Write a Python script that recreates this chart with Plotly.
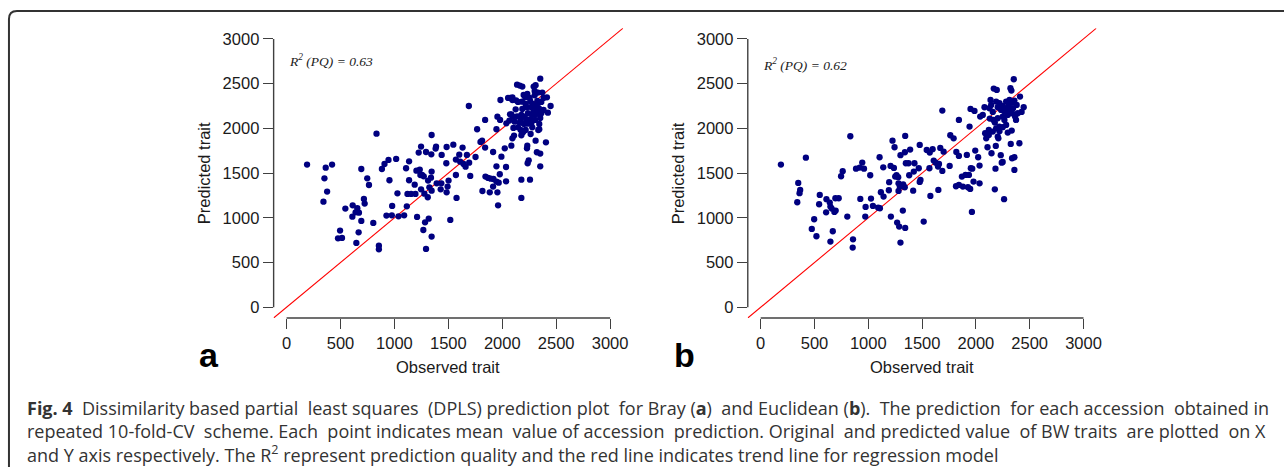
import plotly.graph_objects as go

# ---------------- data ----------------
obs_a = [190, 363, 422, 351, 376, 342, 545, 613, 610, 656,
         671, 640, 693, 717, 724, 693, 748, 764, 804, 668,
         647, 496, 477, 514, 834, 856, 856, 884, 908, 945,
         1016, 954, 1028, 979, 926, 976, 1038, 1090, 1108, 1136,
         1136, 1121, 1155, 1195, 1115, 1188, 1204, 1225, 1247, 1210,
         1235, 1241, 1256, 1272, 1247, 1278, 1309, 1293, 1342, 1345,
         1345, 1339, 1312, 1324, 1345, 1268, 1284, 1318, 1293, 1345,
         1382, 1386, 1392, 1435, 1429, 1438, 1484, 1481, 1493, 1484,
         1502, 1518, 1546, 1570, 1576, 1570, 1601, 1610, 1632, 1641,
         1660, 1672, 1693, 1703, 1690, 1752, 1767, 1798, 1813, 1841,
         1841, 1816, 1844, 1869, 1884, 1893, 1918, 1915, 1915, 1946,
         1946, 1955, 1961, 1967, 1977, 1946, 1955, 1980, 1983, 1992,
         2023, 2035, 2035, 2038, 2084, 2094, 2109, 2177, 2177, 2232,
         2229, 2257, 2235, 2245, 2309, 2321, 2352, 2352, 2405, 2334,
         2343, 2263, 2217, 2177, 2146, 2171, 2192, 2103, 2115, 2066,
         2084, 2352, 2309, 2291, 2137, 2162, 2186, 2232, 2300, 2331,
         2371, 2300, 2254, 2383, 2414, 2448, 2423, 2383, 2362, 2054,
         2072, 2094, 2128, 2146, 2183, 2217, 2260, 2281, 2325, 2124,
         2186, 2229, 2269, 2309, 2340, 2072, 2097, 2137, 2177, 2208,
         2238, 2278, 2315, 2352, 2362, 2223, 2263, 2306, 2171, 2269,
         2235, 2201, 2162, 2343, 2278, 2315, 2287, 2331, 2198, 2214,
         2094]
pred_a = [1595, 1561, 1595, 1442, 1293, 1181, 1103, 1140, 1013, 1107,
          1058, 1062, 965, 1211, 1159, 1546, 1442, 1367, 943, 838,
          719, 857, 771, 775, 1941, 689, 648, 1546, 1602, 1647,
          1658, 1420, 1274, 1133, 1025, 1028, 1017, 1028, 1554, 1632,
          1420, 1267, 1267, 1267, 1129, 1371, 1527, 1729, 1796, 1010,
          1539, 1479, 1479, 1464, 1319, 1270, 1230, 1736, 1710, 1926,
          1517, 1449, 1416, 1341, 1304, 864, 950, 991, 652, 790,
          1774, 1796, 1386, 1386, 1319, 1703, 1792, 1610, 1349, 1285,
          1416, 976, 1818, 1479, 1222, 1651, 1706, 1628, 1785, 1602,
          1572, 1703, 1617, 1468, 2250, 1680, 1990, 1848, 1863, 1785,
          2094, 1300, 1461, 1446, 1285, 1438, 1434, 1349, 1736, 1576,
          1405, 1285, 1140, 1393, 1487, 1990, 2131, 2094, 2317, 1684,
          1777, 1568, 1408, 2057, 1807, 1889, 1919, 1427, 1222, 1807,
          1777, 1427, 1610, 1643, 1863, 1733, 1718, 1576, 1844, 1982,
          1990, 1937, 1982, 1923, 2012, 1982, 1956, 2005, 2075, 2087,
          2157, 2556, 2482, 2467, 2489, 2478, 2467, 2385, 2418, 2400,
          2400, 2370, 2340, 2340, 2347, 2250, 2176, 2206, 2296, 2340,
          2340, 2317, 2314, 2296, 2299, 2273, 2303, 2273, 2306, 2213,
          2217, 2236, 2236, 2236, 2224, 2157, 2131, 2135, 2150, 2131,
          2169, 2150, 2161, 2116, 2169, 2094, 2102, 2094, 2094, 2057,
          2053, 2049, 2064, 2049, 2012, 2206, 2180, 2280, 2374, 2347,
          2347]

obs_b = [188, 420, 349, 367, 361, 340, 549, 543, 497, 475,
         518, 611, 642, 648, 660, 685, 697, 608, 694, 725,
         747, 762, 670, 648, 805, 833, 858, 855, 886, 920,
         944, 960, 926, 975, 972, 1018, 1025, 1043, 1092, 1105,
         1139, 1117, 1142, 1108, 1194, 1191, 1210, 1207, 1225, 1244,
         1238, 1250, 1262, 1278, 1281, 1293, 1281, 1268, 1287, 1299,
         1321, 1343, 1299, 1340, 1343, 1349, 1374, 1380, 1389, 1339,
         1324, 1423, 1429, 1417, 1469, 1478, 1485, 1478, 1515, 1543,
         1571, 1568, 1577, 1598, 1608, 1626, 1648, 1657, 1669, 1688,
         1688, 1700, 1651, 1756, 1762, 1793, 1842, 1818, 1842, 1815,
         1842, 1870, 1879, 1904, 1916, 1926, 1935, 1947, 1953, 1966,
         1963, 1941, 1950, 1987, 1994, 1978, 2021, 2034, 2034, 2040,
         2064, 2080, 2086, 2096, 2108, 2120, 2129, 2136, 2145, 2157,
         2166, 2194, 2176, 2176, 2182, 2185, 2209, 2218, 2231, 2240,
         2249, 2262, 2296, 2324, 2333, 2336, 2358, 2358, 2404, 2352,
         2321, 2330, 2410, 2444, 2425, 2373, 2364, 2188, 2219, 2249,
         2281, 2305, 2333, 2358, 2379, 2312, 2265, 2234, 2203, 2142,
         2126, 2296, 2336, 2249, 2203, 2163, 2312, 2281, 2345, 2389,
         2219, 2265, 2281, 2188, 2157, 2120, 2203, 2249]
pred_b = [1595, 1673, 1390, 1312, 1275, 1174, 1256, 1152, 984, 876,
          794, 1208, 1170, 1126, 1103, 1066, 1081, 1062, 1219, 1219,
          1465, 1521, 850, 734, 1014, 1912, 760, 667, 1550, 1562,
          1618, 1550, 1211, 1122, 1014, 1476, 1215, 1133, 1114, 1677,
          1565, 1286, 1237, 1107, 1398, 1308, 1014, 1580, 1863, 1789,
          1558, 1461, 1476, 1454, 1386, 1349, 1301, 947, 902, 723,
          1081, 887, 1700, 1733, 1916, 1610, 1610, 1476, 1763, 1342,
          1375, 1517, 1610, 1304, 1554, 1815, 1424, 1401, 958, 1759,
          1729, 1554, 1245, 1767, 1640, 1617, 1573, 1603, 1782, 2199,
          1524, 1740, 1312, 1580, 1923, 1889, 2095, 1737, 1692, 1353,
          1368, 1461, 1349, 1480, 1703, 1342, 1480, 1323, 1554, 1550,
          1066, 2020, 2218, 2195, 1752, 1405, 1677, 1584, 1386, 2132,
          2150, 2236, 1946, 1889, 1789, 1983, 2110, 2318, 1722, 2184,
          2445, 2430, 2065, 1319, 1550, 1804, 1889, 2020, 1700, 1617,
          1625, 1208, 1953, 1826, 1975, 1666, 1677, 1535, 1834, 2549,
          2449, 2423, 2355, 2236, 2184, 2095, 2132, 2300, 2281, 2251,
          2225, 2258, 2288, 2311, 2262, 2206, 2188, 2206, 2236, 2262,
          2225, 2150, 2169, 2132, 2113, 2095, 2318, 2300, 2225, 2169,
          1968, 2095, 2039, 2001, 1964, 1927, 1908, 2013]

tick_values = [0, 500, 1000, 1500, 2000, 2500, 3000]
axis_range = [-120, 3120]          # R-style 4 % extension around 0..3000
trend_line = [-120, 3120]          # 1:1 trend line across the plot region
r2_labels = ["<i>R<sup>2</sup> (PQ) = 0.63</i>", "<i>R<sup>2</sup> (PQ) = 0.62</i>"]
panel_letters = ["a", "b"]
x_title = "Observed trait"
y_title = "Predicted trait"
caption_lines = [
    "<b>Fig. 4</b> Dissimilarity based partial least squares (DPLS) prediction plot for Bray (<b>a</b>) and Euclidean (<b>b</b>). The prediction for each accession obtained in",
    "repeated 10-fold-CV scheme. Each point indicates mean value of accession prediction. Original and predicted value of BW traits are plotted on X",
    "and Y axis respectively. The R<sup>2</sup> represent prediction quality and the red line indicates trend line for regression model",
]
caption_extra_spaces = [8, 8, 0]   # justification padding (last line is ragged)

# ---------------- layout constants ----------------
W, H = 1284, 467
def px_x(p):
    return p / W
def px_y(p):
    return 1 - p / H

def justify(line, n_extra):
    """Spread n_extra non-breaking spaces evenly over the word gaps."""
    words = line.split(" ")
    gaps = len(words) - 1
    pad = [0] * gaps
    for i in range(n_extra):
        pad[min(gaps - 1, int((i + 0.5) * gaps / n_extra))] += 1
    out = words[0]
    for w, k in zip(words[1:], pad):
        out += " " + "\u00a0" * k + w
    return out

dom_y = [px_y(318.0), px_y(28.2)]
dom_xa = [px_x(274.7), px_x(625.5)]
dom_xb = [px_x(750.7), px_x(1100.7)]

AX_COL = "#404040"
TXT_COL = "#1a1a1a"
AX_FONT = dict(family="Liberation Sans, Arial, sans-serif", size=16.5, color=TXT_COL)

fig = go.Figure()

panels = [("x", "y", obs_a, pred_a), ("x2", "y2", obs_b, pred_b)]
for xa, ya, ox, py in panels:
    fig.add_trace(go.Scatter(x=trend_line, y=trend_line, mode="lines",
                             line=dict(color="#ff0000", width=1.1),
                             xaxis=xa, yaxis=ya, hoverinfo="skip"))
    fig.add_trace(go.Scatter(x=ox, y=py, mode="markers",
                             marker=dict(color="#000080", size=6.3, line=dict(width=0)),
                             xaxis=xa, yaxis=ya))

axis_common = dict(range=axis_range, showgrid=False, zeroline=False, showline=False,
                   ticks="outside", ticklen=10, tickwidth=1.4, tickcolor=AX_COL,
                   tickvals=tick_values, tickfont=AX_FONT, fixedrange=True)

fig.update_layout(
    width=W, height=H,
    margin=dict(l=0, r=0, t=0, b=0),
    paper_bgcolor="white", plot_bgcolor="white",
    showlegend=False,
    xaxis=dict(domain=dom_xa, anchor="y", **axis_common),
    yaxis=dict(domain=dom_y, anchor="x", **axis_common),
    xaxis2=dict(domain=dom_xb, anchor="y2", **axis_common),
    yaxis2=dict(domain=dom_y, anchor="x2", **axis_common),
)

shapes = []
for xa, ya in [("x", "y"), ("x2", "y2")]:
    # detached R-style axis lines spanning only the tick range
    shapes.append(dict(type="line", xref=xa, yref=f"{ya} domain",
                       x0=tick_values[0], x1=tick_values[-1], y0=0, y1=0,
                       line=dict(color=AX_COL, width=1.4)))
    shapes.append(dict(type="line", xref=f"{xa} domain", yref=ya,
                       x0=0, x1=0, y0=tick_values[0], y1=tick_values[-1],
                       line=dict(color=AX_COL, width=1.4)))

# figure frame (rounded top-left corner, open to the right/bottom)
fx, ftop, fr = 9, 11, 8
frame_path = (f"M {px_x(fx)} {px_y(475)} L {px_x(fx)} {px_y(ftop + fr)} "
              f"Q {px_x(fx)} {px_y(ftop)} {px_x(fx + fr)} {px_y(ftop)} "
              f"L {px_x(1292)} {px_y(ftop)}")
shapes.append(dict(type="path", xref="paper", yref="paper", path=frame_path,
                   line=dict(color="#333333", width=2)))
fig.update_layout(shapes=shapes)

ann = []
# R^2 labels
for (xa, ya), lab, yv in zip([("x", "y"), ("x2", "y2")], r2_labels, [2760, 2710]):
    ann.append(dict(xref=xa, yref=ya, x=5, y=yv, text=lab, showarrow=False,
                    xanchor="left", yanchor="middle",
                    font=dict(family="Liberation Serif, Times New Roman, serif",
                              size=13.5, color=TXT_COL)))
# axis titles and panel letters
panel_px = [(287.7, 209.5), (763.7, 687.5)]
for (zero_px, letter_px), letter in zip(panel_px, panel_letters):
    ann.append(dict(xref="paper", yref="paper", x=px_x(zero_px + 162.4), y=px_y(366.5),
                    text=x_title, showarrow=False, xanchor="center", yanchor="middle",
                    font=AX_FONT))
    ann.append(dict(xref="paper", yref="paper", x=px_x(zero_px - 82.7), y=px_y(173),
                    text=y_title, showarrow=False, xanchor="center", yanchor="middle",
                    textangle=-90, font=AX_FONT))
    ann.append(dict(xref="paper", yref="paper", x=px_x(letter_px), y=px_y(355),
                    text=f"<b>{letter}</b>", showarrow=False, xanchor="center",
                    yanchor="middle",
                    font=dict(family="Liberation Sans, Arial, sans-serif", size=34,
                              color="#000000")))
# caption
for line, extra, ypx in zip(caption_lines, caption_extra_spaces, [408, 431, 454]):
    text = justify(line, extra) if extra else line
    ann.append(dict(xref="paper", yref="paper", x=px_x(25), y=px_y(ypx), text=text,
                    showarrow=False, xanchor="left", yanchor="middle",
                    font=dict(family="Open Sans, sans-serif", size=18, color="#333333")))
fig.update_layout(annotations=ann)

# the page has no body margin, so the 1284x467 figure fills the window exactly
fig.write_html("out.html", config={"displayModeBar": False},
               post_script="document.body.style.margin='0';document.body.style.overflow='hidden';")
